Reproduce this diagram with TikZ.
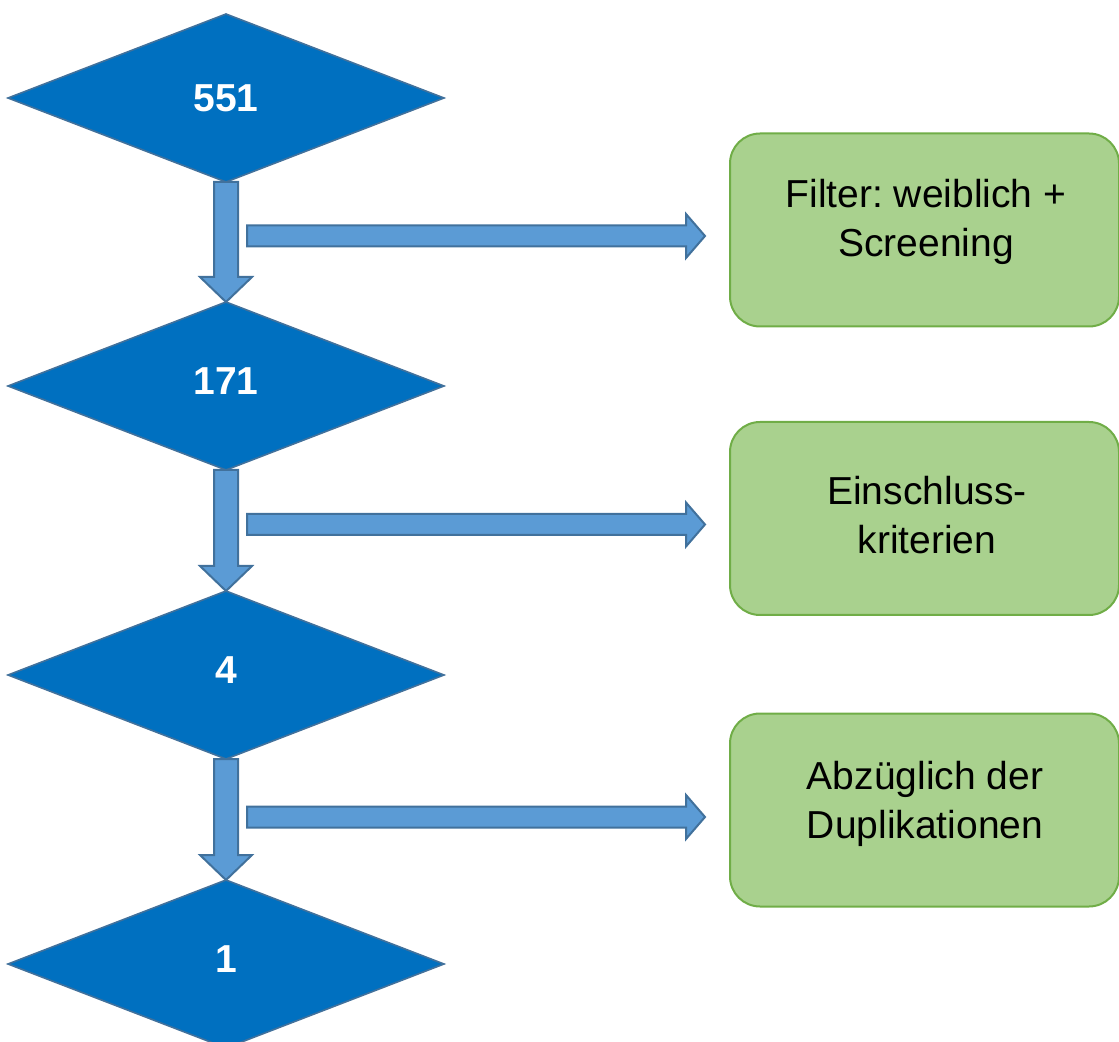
\documentclass[tikz,border=0pt]{standalone}
\usepackage{fontspec}
\setmainfont{Liberation Sans}
\usetikzlibrary{shapes.geometric,calc}
\frenchspacing
\definecolor{dblue}{HTML}{0070C0}
\definecolor{dedge}{HTML}{41719C}
\definecolor{afill}{HTML}{5B9BD5}
\definecolor{gfill}{HTML}{A9D18E}
\definecolor{gedge}{HTML}{70AD47}
\tikzset{
  dnode/.style={diamond, aspect=2.595, minimum width=218pt, minimum height=84pt,
    inner sep=0pt, outer sep=0pt, fill=dblue, draw=dedge, line width=0.8pt,
    text=white, font=\bfseries\fontsize{19.5}{24}\selectfont},
  raised/.style={text depth=5pt},
  gbox/.style={rectangle, rounded corners=15pt, minimum width=194.5pt, minimum height=96.5pt,
    inner sep=0pt, outer sep=0pt, fill=gfill, draw=gedge, line width=1pt},
  gtext/.style={anchor=north, align=center, inner sep=0pt, text=black,
    font=\fontsize{19.5}{24.5}\selectfont},
  barrow/.style={fill=afill, draw=dedge, line width=1pt, line join=miter}
}
\newcommand\vblockarrow[2]{%
  \draw[barrow] ($(#1)+(-12,0)$) -- ($(#2)+(-12,-25)$) -- ($(#2)+(-26,-25)$) -- (#2)
    -- ($(#2)+(26,-25)$) -- ($(#2)+(12,-25)$) -- ($(#1)+(12,0)$) -- cycle;}
\newcommand\hblockarrow[2]{%
  \draw[barrow] ($(#1)+(0,-10.5)$) -- ($(#2)+(-19,-10.5)$) -- ($(#2)+(-19,-22)$) -- (#2)
    -- ($(#2)+(-19,22)$) -- ($(#2)+(-19,10.5)$) -- ($(#1)+(0,10.5)$) -- cycle;}
\begin{document}
\begin{tikzpicture}[x=0.5pt, y=-0.5pt]
\useasboundingbox (0,0) rectangle (1119,1042);
\clip (0,0) rectangle (1119,1042);
% diamonds
\node[dnode] (d1) at (226,98) {551};
\node[dnode,raised] (d2) at (226,386) {171};
\node[dnode,raised] (d3) at (226,675) {4};
\node[dnode,raised] (d4) at (226,964) {1};
% green boxes
\node[gbox] (b1) at (924.5,230) {};
\node[gbox] (b2) at (924.5,518.5) {};
\node[gbox] (b3) at (924.5,810) {};
\node[gtext] (t1) at (926,178.5) {Filter: weiblich +\\Screening};
\node[gtext] (t2) at (927,475.5) {Einschluss-\\kriterien};
\node[gtext] (t3) at (925,761) {Abzüglich der\\Duplikationen};
% vertical arrows
\vblockarrow{d1.south}{d2.north}
\vblockarrow{d2.south}{d3.north}
\vblockarrow{d3.south}{d4.north}
% horizontal arrows
\coordinate (h1s) at (247,236);
\coordinate (h1e) at ($(b1.west)+(-25,6)$);
\coordinate (h2s) at (247,524.5);
\coordinate (h2e) at ($(b2.west)+(-25,6)$);
\coordinate (h3s) at (247,817);
\coordinate (h3e) at ($(b3.west)+(-25,7)$);
\hblockarrow{h1s}{h1e}
\hblockarrow{h2s}{h2e}
\hblockarrow{h3s}{h3e}
\end{tikzpicture}
\end{document}
